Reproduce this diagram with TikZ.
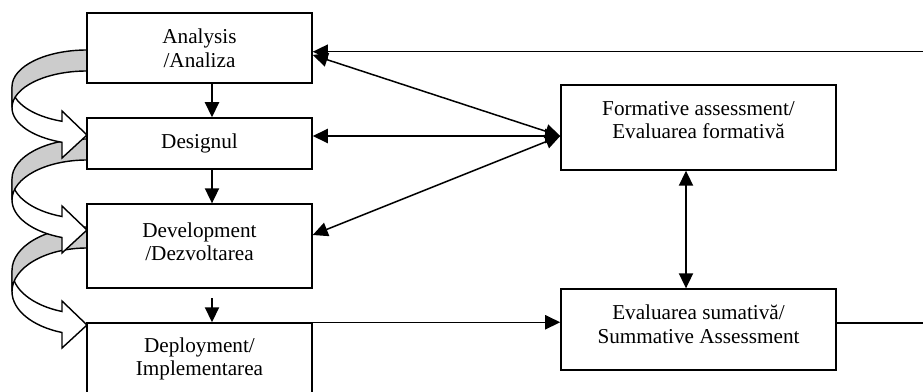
\documentclass[tikz,border=0pt]{standalone}
\usepackage{fontspec}
\setmainfont{Liberation Serif}
\usetikzlibrary{arrows.meta}

\tikzset{
  box/.style={draw, line width=0.8pt, align=center, inner sep=0pt,
    minimum width=127.4pt, font=\fontsize{12}{13.4}\selectfont},
  wide/.style={box, minimum width=155.7pt},
  link/.style={line width=0.85pt, -{Triangle[length=8.5pt,width=8pt]}},
  dlink/.style={line width=0.85pt, {Triangle[length=8.5pt,width=8pt]}-{Triangle[length=8.5pt,width=8pt]}},
  ribbon/.style={draw, line width=0.8pt}
}

\begin{document}
\begin{tikzpicture}[x=0.566pt, y=-0.566pt]

\useasboundingbox (0,0) rectangle (923,392);

\filldraw[ribbon, fill=white] (12,291.5) arc[start angle=180, end angle=109.47, x radius=75, y radius=43.5] -- (62,348) -- (87,325) -- (62,301) -- (62,311.5) arc[start angle=109.47, end angle=180, x radius=75, y radius=43.5] -- cycle;
\filldraw[ribbon, fill=gray!40] (87,227) arc[start angle=270, end angle=180, x radius=75, y radius=43.5] -- (12,291.5) arc[start angle=180, end angle=270, x radius=75, y radius=43.5] -- cycle;

\filldraw[ribbon, fill=white] (12,199.9) arc[start angle=180, end angle=109.47, x radius=75, y radius=39.9] -- (62,253) -- (87,230) -- (62,206) -- (62,216.5) arc[start angle=109.47, end angle=180, x radius=75, y radius=39.9] -- cycle;
\filldraw[ribbon, fill=gray!40] (87,139) arc[start angle=270, end angle=180, x radius=75, y radius=39.9] -- (12,199.9) arc[start angle=180, end angle=270, x radius=75, y radius=39.9] -- cycle;

\filldraw[ribbon, fill=white] (12,107.7) arc[start angle=180, end angle=109.47, x radius=75, y radius=36.7] -- (62,158) -- (87,135) -- (62,111) -- (62,121.3) arc[start angle=109.47, end angle=180, x radius=75, y radius=36.7] -- cycle;
\filldraw[ribbon, fill=gray!40] (87,50) arc[start angle=270, end angle=180, x radius=75, y radius=36.7] -- (12,107.7) arc[start angle=180, end angle=270, x radius=75, y radius=36.7] -- cycle;


\node [box, minimum height=39.6pt] (ana) at (199.5,48) {Analysis\\/Analiza};
\node [box, minimum height=28.9pt] (des) at (199.5,143.5) {Designul};
\node [box, minimum height=47.5pt, text depth=4.8pt] (dev) at (199.5,246) {Development\\/Dezvoltarea};
\node [box, minimum height=40.5pt] (dep) at (199.5,358.75) {Deployment/\\Implementarea};

\node [wide, minimum height=48.1pt, text depth=8.5pt] (frm) at (698.5,127.5) {Formative assessment/\\Evaluarea formativă};
\node [wide, minimum height=45.8pt, text depth=5.7pt] (sum) at (698.5,329.5) {Evaluarea sumativă/\\Summative Assessment};

\coordinate (rtop) at (935,51.7);
\coordinate (rbot) at (935,323);
\coordinate (devout) at (212,298);


\draw [link] (212,0 |- ana.south) -- (212,0 |- des.north);
\draw [link] (212,0 |- des.south) -- (212,0 |- dev.north);
\draw [link] (devout) -- (devout |- dep.north);

\draw [link] (rtop) -- (ana.east |- rtop);
\draw [dlink] (ana.east |- 0,55) -- (frm.west |- 0,136);
\draw [dlink] (des.east |- 0,136) -- (frm.west |- 0,136);
\draw [dlink] (dev.east |- 0,235) -- (frm.west |- 0,136);

\draw [dlink] (686,0 |- frm.south) -- (686,0 |- sum.north);
\draw [link] (dep.north east) -- (sum.west |- dep.north east);
\draw [line width=0.85pt] (sum.east |- rbot) -- (rbot);

\end{tikzpicture}
\end{document}
